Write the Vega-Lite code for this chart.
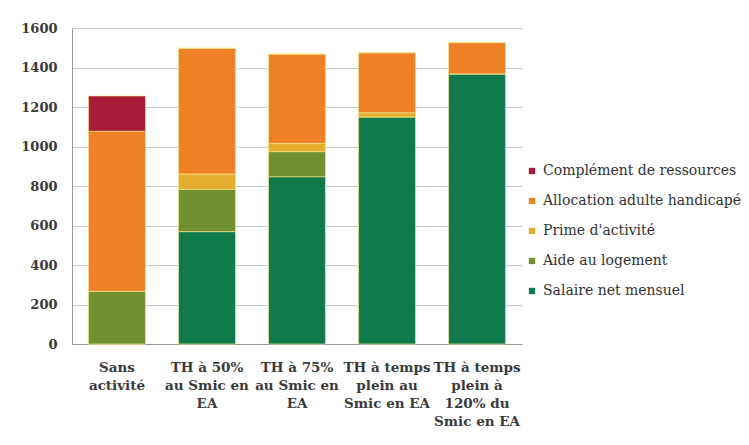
{
  "$schema": "https://vega.github.io/schema/vega-lite/v6.json",
  "autosize": {"type": "none"},
  "width": 450,
  "height": 316,
  "padding": {"left": 72, "top": 28, "right": 227, "bottom": 101},
  "background": "white",
  "config": {
    "view": {"stroke": null},
    "font": "DejaVu Serif"
  },
  "data": {
    "values": [
      {"situation": "Sans activité", "composante": "Salaire net mensuel", "k": 1, "montant": 0},
      {"situation": "Sans activité", "composante": "Aide au logement", "k": 2, "montant": 267},
      {"situation": "Sans activité", "composante": "Prime d'activité", "k": 3, "montant": 0},
      {"situation": "Sans activité", "composante": "Allocation adulte handicapé", "k": 4, "montant": 810},
      {"situation": "Sans activité", "composante": "Complément de ressources", "k": 5, "montant": 179},

      {"situation": "TH à 50% au Smic en EA", "composante": "Salaire net mensuel", "k": 1, "montant": 569},
      {"situation": "TH à 50% au Smic en EA", "composante": "Aide au logement", "k": 2, "montant": 214},
      {"situation": "TH à 50% au Smic en EA", "composante": "Prime d'activité", "k": 3, "montant": 78},
      {"situation": "TH à 50% au Smic en EA", "composante": "Allocation adulte handicapé", "k": 4, "montant": 636},
      {"situation": "TH à 50% au Smic en EA", "composante": "Complément de ressources", "k": 5, "montant": 0},

      {"situation": "TH à 75% au Smic en EA", "composante": "Salaire net mensuel", "k": 1, "montant": 847},
      {"situation": "TH à 75% au Smic en EA", "composante": "Aide au logement", "k": 2, "montant": 127},
      {"situation": "TH à 75% au Smic en EA", "composante": "Prime d'activité", "k": 3, "montant": 42},
      {"situation": "TH à 75% au Smic en EA", "composante": "Allocation adulte handicapé", "k": 4, "montant": 452},
      {"situation": "TH à 75% au Smic en EA", "composante": "Complément de ressources", "k": 5, "montant": 0},

      {"situation": "TH à temps plein au Smic en EA", "composante": "Salaire net mensuel", "k": 1, "montant": 1150},
      {"situation": "TH à temps plein au Smic en EA", "composante": "Aide au logement", "k": 2, "montant": 0},
      {"situation": "TH à temps plein au Smic en EA", "composante": "Prime d'activité", "k": 3, "montant": 21},
      {"situation": "TH à temps plein au Smic en EA", "composante": "Allocation adulte handicapé", "k": 4, "montant": 304},
      {"situation": "TH à temps plein au Smic en EA", "composante": "Complément de ressources", "k": 5, "montant": 0},

      {"situation": "TH à temps plein à 120% du Smic en EA", "composante": "Salaire net mensuel", "k": 1, "montant": 1368},
      {"situation": "TH à temps plein à 120% du Smic en EA", "composante": "Aide au logement", "k": 2, "montant": 0},
      {"situation": "TH à temps plein à 120% du Smic en EA", "composante": "Prime d'activité", "k": 3, "montant": 0},
      {"situation": "TH à temps plein à 120% du Smic en EA", "composante": "Allocation adulte handicapé", "k": 4, "montant": 158},
      {"situation": "TH à temps plein à 120% du Smic en EA", "composante": "Complément de ressources", "k": 5, "montant": 0}
    ]
  },
  "mark": {"type": "bar", "stroke": "#F3E48C", "strokeWidth": 0.8, "strokeOpacity": 0.85},
  "encoding": {
    "x": {
      "field": "situation",
      "type": "nominal",
      "sort": null,
      "scale": {"paddingInner": 0.367, "paddingOuter": 0.183},
      "axis": {
        "title": null,
        "labelAngle": 0,
        "labelFont": "DejaVu Serif",
        "labelFontSize": 13.5,
        "labelFontWeight": "bold",
        "labelColor": "#3a3a3a",
        "labelLineHeight": 18,
        "labelPadding": 16,
        "ticks": false,
        "domainColor": "#9a9a9a",
        "labelExpr": "datum.value == 'Sans activité' ? ['Sans', 'activité'] : datum.value == 'TH à 50% au Smic en EA' ? ['TH à 50%', 'au Smic en', 'EA'] : datum.value == 'TH à 75% au Smic en EA' ? ['TH à 75%', 'au Smic en', 'EA'] : datum.value == 'TH à temps plein au Smic en EA' ? ['TH à temps', 'plein au', 'Smic en EA'] : ['TH à temps', 'plein à', '120% du', 'Smic en EA']"
      }
    },
    "y": {
      "field": "montant",
      "type": "quantitative",
      "aggregate": "sum",
      "stack": "zero",
      "scale": {"domain": [0, 1600], "nice": false},
      "axis": {
        "title": null,
        "format": "d",
        "values": [0, 200, 400, 600, 800, 1000, 1200, 1400, 1600],
        "labelFont": "DejaVu Serif",
        "labelFontSize": 13,
        "labelFontWeight": "bold",
        "labelColor": "#3a3a3a",
        "labelPadding": 15,
        "ticks": false,
        "domainColor": "#9a9a9a",
        "gridColor": "#c9c9c9",
        "gridWidth": 1
      }
    },
    "color": {
      "field": "composante",
      "type": "nominal",
      "scale": {
        "domain": ["Complément de ressources", "Allocation adulte handicapé", "Prime d'activité", "Aide au logement", "Salaire net mensuel"],
        "range": ["#A91B36", "#EE8126", "#E3AE2E", "#72902F", "#0F7A4C"]
      },
      "legend": {
        "title": null,
        "orient": "none",
        "legendX": 453,
        "legendY": 136,
        "symbolType": "square",
        "symbolSize": 40,
        "symbolStrokeWidth": 0,
        "labelFont": "DejaVu Serif",
        "labelFontSize": 14,
        "labelColor": "#333333",
        "labelOffset": 4,
        "rowPadding": 16,
        "labelLimit": 260
      }
    },
    "order": {"field": "k", "type": "quantitative", "sort": "ascending"}
  }
}
